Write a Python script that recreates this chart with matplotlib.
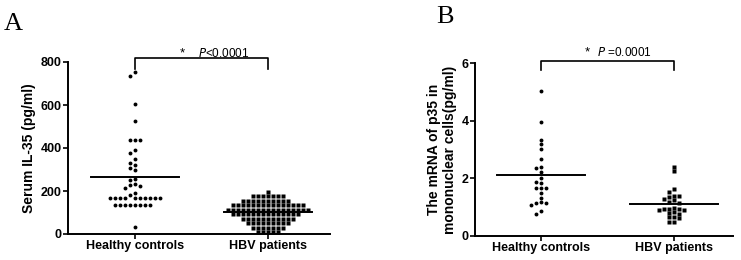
import numpy as np
import matplotlib
matplotlib.use('Agg')
import matplotlib.pyplot as plt

######################################
# data
######################################
groups = ['Healthy controls', 'HBV patients']

# panel A : serum IL-35 (pg/ml)
il35_healthy = [752, 735, 603, 527, 437, 437, 437, 392, 378, 347, 332, 321, 305, 298,
                256, 251, 231, 228, 223, 215, 189, 181,
                168, 168, 168, 168, 168, 168, 168, 168, 168, 168,
                135, 135, 135, 135, 135, 135, 135, 135, 33]
il35_hbv = ([197] + [176] * 7 + [155] * 10 + [134] * 15 + [113] * 17 + [92] * 14
            + [71] * 11 + [50] * 9 + [29] * 7 + [10] * 5)
il35_lines = [264, 101]

# panel B : p35 mRNA
p35_healthy = [5.03, 3.97, 3.33, 3.19, 3.02, 2.67, 2.38, 2.35, 2.23, 2.0, 1.88, 1.83,
               1.65, 1.65, 1.65, 1.48, 1.33, 1.17, 1.16, 1.15, 1.08, 0.88, 0.76]
p35_hbv = [2.40, 2.25, 1.62, 1.52, 1.40, 1.40, 1.36, 1.28, 1.26, 1.17, 1.15, 0.97,
           0.95, 0.95, 0.92, 0.90, 0.90, 0.82, 0.80, 0.78, 0.66, 0.65, 0.62, 0.50, 0.48]
p35_lines = [2.1, 1.1]

plt.rcParams['font.family'] = ['Liberation Sans', 'DejaVu Sans']

fig = plt.figure(figsize=(7.41, 2.6), dpi=100)
axA = fig.add_axes([68 / 741, 26 / 260, 262 / 741, 172 / 260])
axB = fig.add_axes([475 / 741, 24 / 260, 258 / 741, 173 / 260])


def swarm_x(ax, x0, vals, pitch=5.0, gap=4.0):
    # GraphPad-like column slots: nearest free slot to the centre
    xs = ax.transData.transform([(0, 0), (1, 0)])
    xpx = xs[1, 0] - xs[0, 0]
    order = [0]
    for k in range(1, 40):
        order += [-k, k]
    placed = []
    out = []
    for v in vals:
        ypx = ax.transData.transform((x0, v))[1]
        for k in order:
            if all(abs(ypx - py) >= gap for s, py in placed if s == k):
                placed.append((k, ypx))
                out.append(x0 + k * pitch / xpx)
                break
    return out


def style(ax, ylim, yticks, ylabel):
    ax.set_ylim(*ylim)
    ax.set_yticks(yticks)
    ax.set_xticks([0, 1])
    ax.set_xticklabels(groups, fontsize=9, fontweight='bold')
    for lab in ax.get_yticklabels():
        lab.set_fontweight('bold')
        lab.set_fontsize(9)
    ax.spines['top'].set_visible(False)
    ax.spines['right'].set_visible(False)
    ax.spines['left'].set_linewidth(1.4)
    ax.spines['bottom'].set_linewidth(1.4)
    ax.tick_params(width=1.2, length=3.5, pad=1)
    ax.set_ylabel(ylabel, fontsize=10, fontweight='bold', labelpad=3)


def panel(ax, healthy, hbv, lines):
    hx = swarm_x(ax, 0, healthy)
    bx = swarm_x(ax, 1, hbv)
    ax.plot(hx, healthy, 'o', color='black', ms=2.8, mec='none', clip_on=False)
    ax.plot(bx, hbv, 's', color='black', ms=3.2, mec='none', clip_on=False)
    for i, m in enumerate(lines):
        ax.plot([i - 0.33, i + 0.33], [m, m], color='black', lw=1.4)


# panel A
axA.set_xlim(-0.504, 1.466)
style(axA, (0, 800), [0, 200, 400, 600, 800], 'Serum IL-35 (pg/ml)')
panel(axA, il35_healthy, il35_hbv, il35_lines)
axA.plot([0, 0, 1, 1], [767, 817, 817, 767], color='black', lw=1.2, clip_on=False)
axA.text(0.355, 840, '*', ha='center', va='center', fontsize=9.5)
axA.text(0.47, 838, r'$\it{P}$<0.0001', ha='left', va='center', fontsize=8.5)
fig.text(4 / 741, 1 - 24 / 260, 'A', family='Liberation Serif', fontsize=19, va='center')

# panel B
axB.set_xlim(-0.496, 1.44)
style(axB, (0, 6), [0, 2, 4, 6],
      'The mRNA of p35 in\nmononuclear cells(pg/ml)')
panel(axB, p35_healthy, p35_hbv, p35_lines)
axB.plot([0, 0, 1, 1], [5.76, 6.08, 6.08, 5.76], color='black', lw=1.2, clip_on=False)
axB.text(0.345, 6.37, '*', ha='center', va='center', fontsize=9.5)
axB.text(0.42, 6.35, r'$\it{P}$ =0.0001', ha='left', va='center', fontsize=8.5)
fig.text(436 / 741, 1 - 17 / 260, 'B', family='Liberation Serif', fontsize=19, va='center')

fig.savefig('out.png', dpi=100)
